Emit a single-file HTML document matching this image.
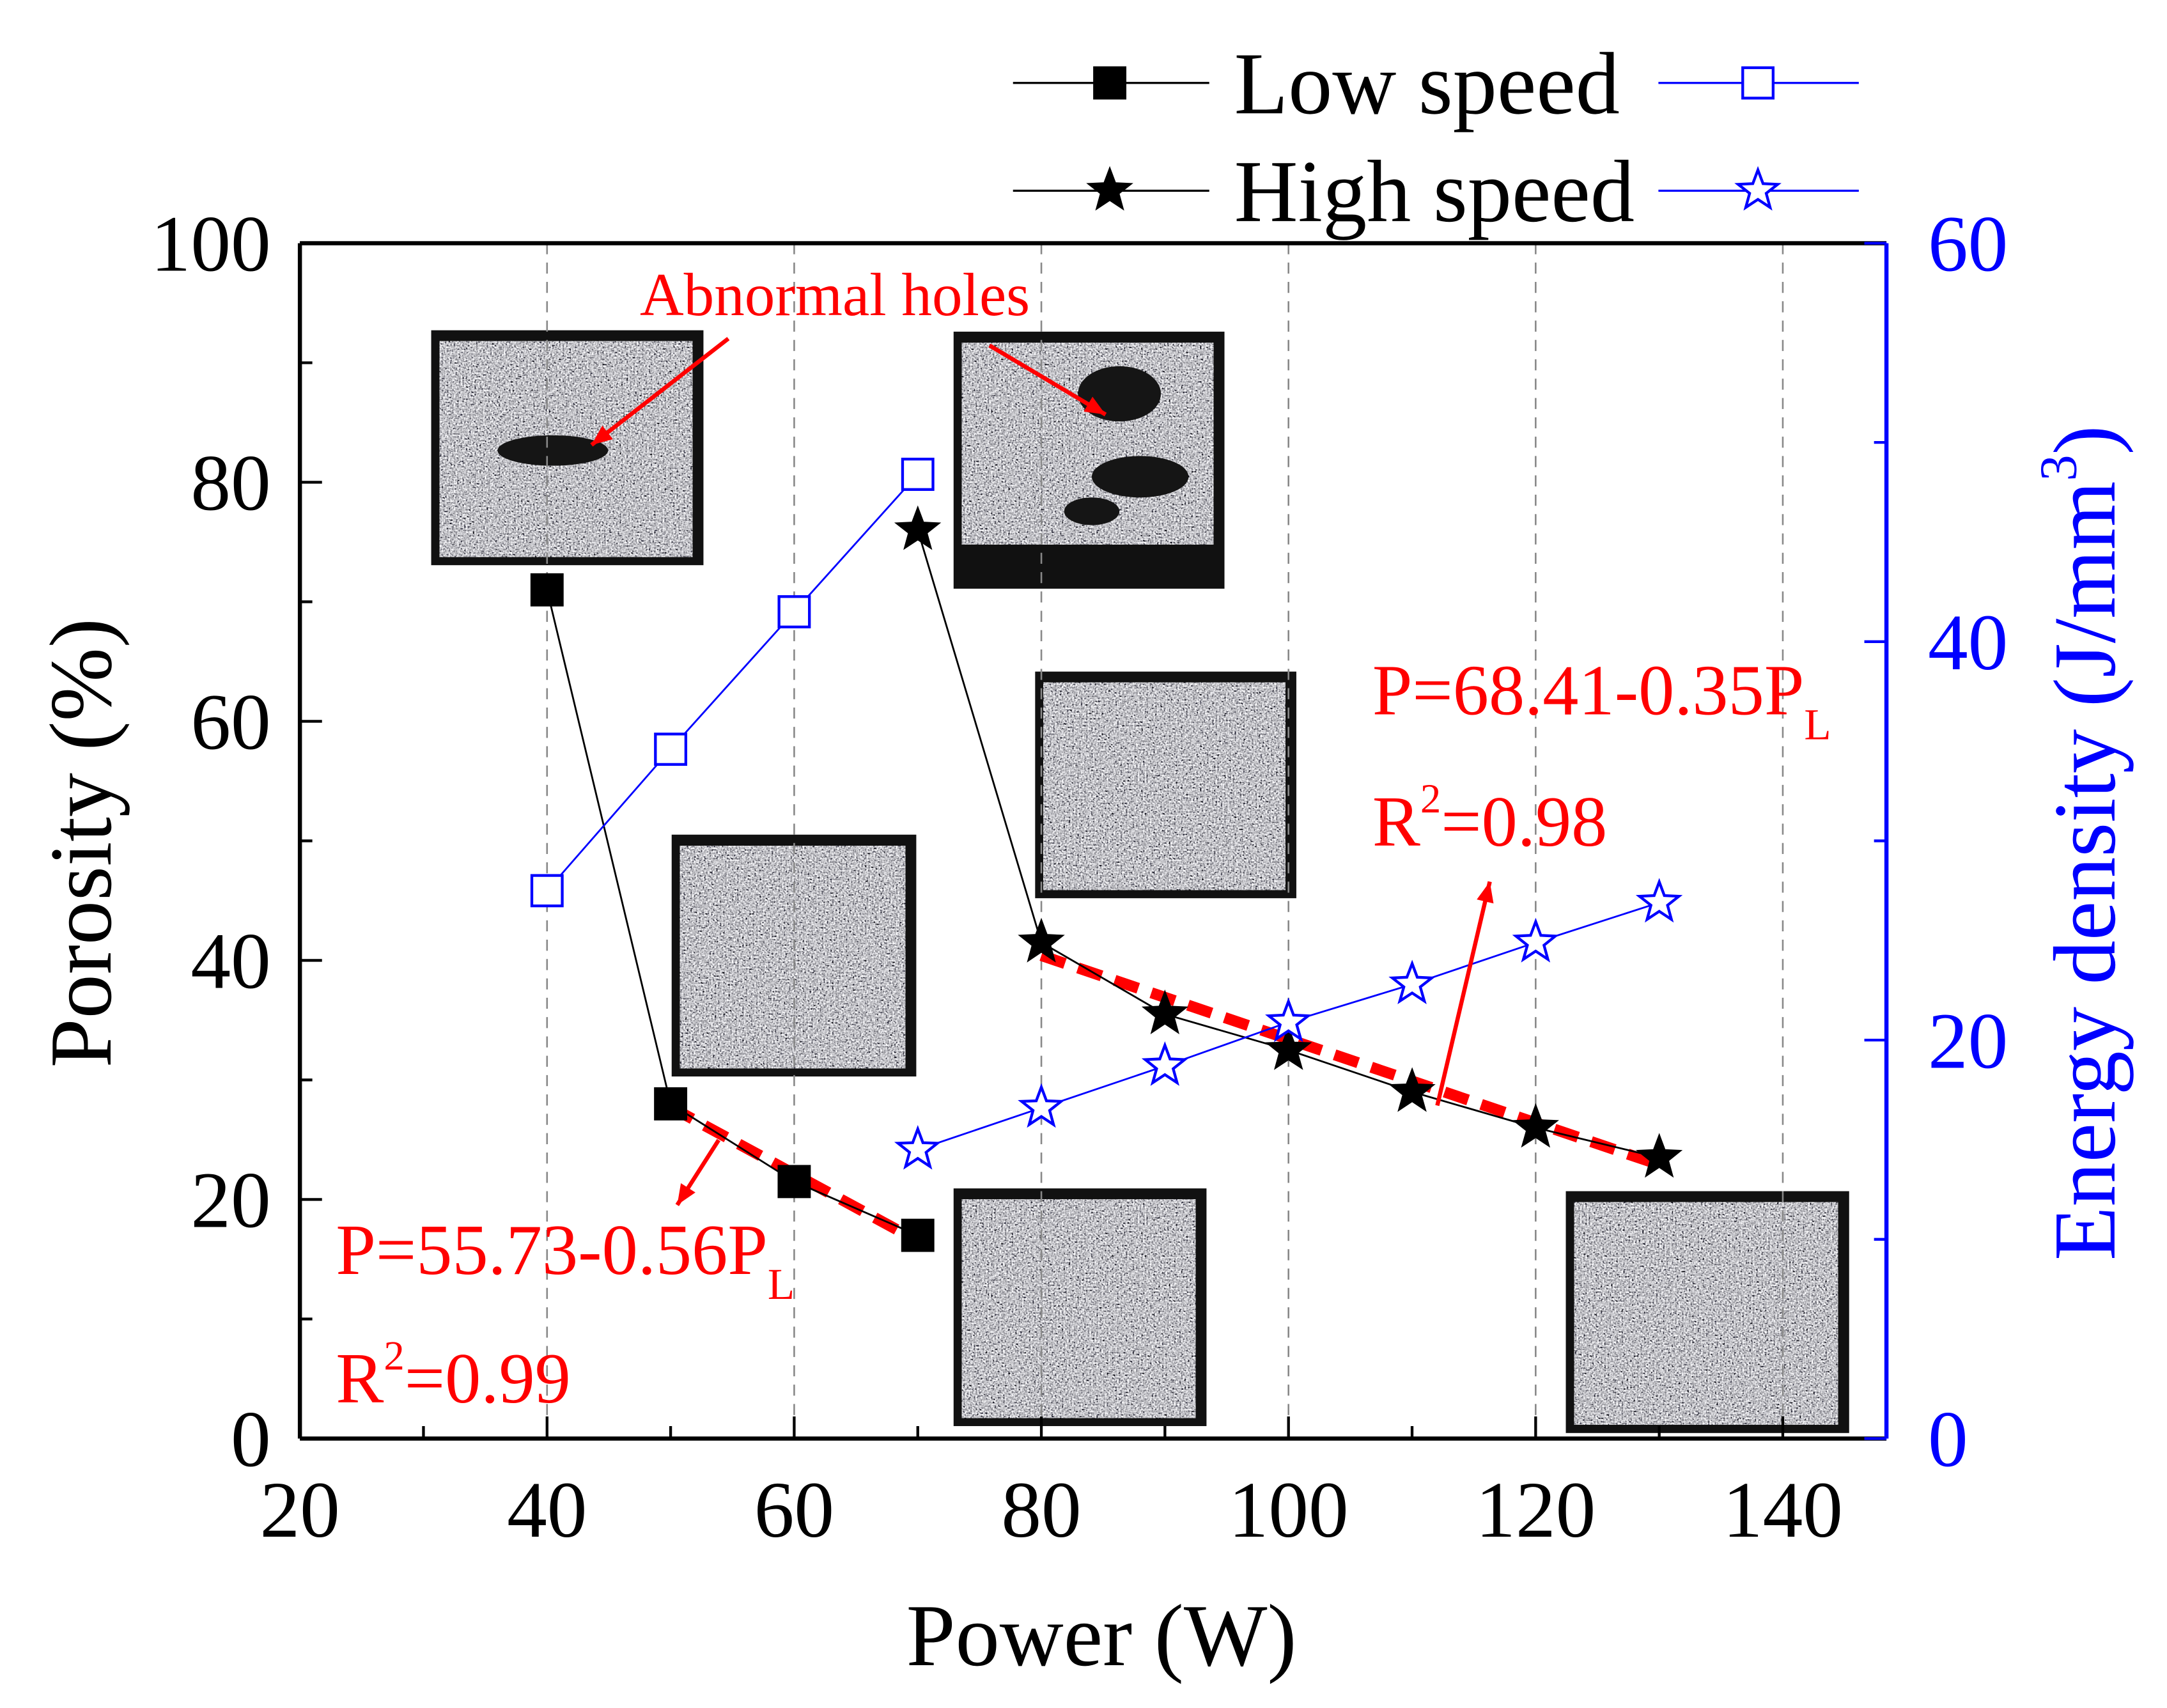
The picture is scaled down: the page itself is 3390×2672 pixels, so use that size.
<!DOCTYPE html>
<html><head><meta charset="utf-8"><style>
html,body{margin:0;padding:0;background:#fff;}
svg{display:block;font-family:"Liberation Serif",serif;}
</style></head><body>
<svg id="chart" width="3390" height="2672" viewBox="0 0 1568 1236" preserveAspectRatio="none" xmlns="http://www.w3.org/2000/svg">
<defs>
<filter id="grain" x="0" y="0" width="100%" height="100%">
<feTurbulence type="fractalNoise" baseFrequency="0.8" numOctaves="2" seed="3" result="n"/>
<feColorMatrix in="n" type="matrix" values="0.33 0.33 0.33 0 0  0.33 0.33 0.33 0 0  0.33 0.33 0.33 0 0  0 0 0 0 1" result="g"/>
<feComponentTransfer in="g"><feFuncR type="linear" slope="3.2" intercept="-1.05"/><feFuncG type="linear" slope="3.2" intercept="-1.05"/><feFuncB type="linear" slope="3.2" intercept="-1.02"/></feComponentTransfer>
</filter>
</defs>
<g id="photos"></g>
<g id="grid"></g>
<g id="axes"></g>
<g id="series"></g>
<g id="annot"></g>
</svg>
<script>
const NS="http://www.w3.org/2000/svg";
const powerLow=[40,50,60,70];
const porosityLow=[71,28,21.5,17];
const energyLow=[27.5,34.6,41.5,48.4];
const powerHigh=[70,80,90,100,110,120,130];
const porosityHigh=[76,41.5,35.5,32.5,29,26,23.5];
const energyHigh=[14.5,16.6,18.7,20.9,22.8,24.9,26.9];
const xTicks=[20,40,60,80,100,120,140];
const yTicks=[0,20,40,60,80,100];
const y2Ticks=[0,20,40,60];
const fitLow=[55.73,-0.56,50,70];
const fitHigh=[68.41,-0.35,80,130];

const L=217,R=1365,T=176,B=1041;
const X=v=>L+(v-20)*(1290-L)/120;
const Y=p=>B-p*(B-T)/100;
const Y2=e=>B-e*(B-T)/60;
function mk(tag,attrs,parent,txt){const e=document.createElementNS(NS,tag);for(const k in attrs)e.setAttribute(k,attrs[k]);if(txt!==undefined)e.textContent=txt;document.getElementById(parent).appendChild(e);return e;}

// photos
const photos=[[312,239,197,170,0],[690,240,196,186,1],[749,486,189,164,0],[486,604,177,175,0],[690,860,183,172,0],[1133,862,205,175,0]];
photos.forEach((p,i)=>{
 const bg=mk('rect',{x:p[0],y:p[1],width:p[2],height:p[3],fill:'#111'},'photos');
 
 
 const h=p[4]?p[3]-40:p[3]-14;
 const c=mk('rect',{x:p[0]+6,y:p[1]+8,width:p[2]-14,height:h,fill:'#888',filter:'url(#grain)'},'photos');
 
 
});
// holes
[[360,315,80,22],[780,265,60,40],[790,330,70,30],[770,360,40,20]].forEach((h,i)=>{
 const e=mk('ellipse',{cx:h[0]+h[2]/2,cy:h[1]+h[3]/2,rx:h[2]/2,ry:h[3]/2,fill:'#151515'},'photos');
 
 
});

// grid
xTicks.slice(1).forEach(v=>{
 const g=mk('line',{x1:X(v),x2:X(v),y1:T,y2:B,stroke:'#888','stroke-width':1.2,'stroke-dasharray':'8,6'},'grid');
 
 
});

// axes frame
let a;
a=mk('line',{x1:L,x2:R,y1:B,y2:B,stroke:'#000','stroke-width':3},'axes');
a=mk('line',{x1:L,x2:R,y1:T,y2:T,stroke:'#000','stroke-width':3},'axes');
a=mk('line',{x1:L,x2:L,y1:T,y2:B,stroke:'#000','stroke-width':3},'axes');
a=mk('line',{x1:R,x2:R,y1:T,y2:B,stroke:'#00f','stroke-width':3},'axes');
for(let v=20;v<=148;v+=10){const maj=v%20===0;const t=mk('line',{x1:X(v),x2:X(v),y1:B,y2:B-(maj?16:9),stroke:'#000','stroke-width':2},'axes');}
for(let v=0;v<=100;v+=10){const maj=v%20===0;const t=mk('line',{x1:L,x2:L+(maj?16:9),y1:Y(v),y2:Y(v),stroke:'#000','stroke-width':2},'axes');}
for(let v=0;v<=60;v+=10){const maj=v%20===0;const t=mk('line',{x1:R,x2:R-(maj?16:9),y1:Y2(v),y2:Y2(v),stroke:'#00f','stroke-width':2},'axes');}
xTicks.forEach(v=>{const t=mk('text',{x:X(v),y:1112,'font-size':58,'text-anchor':'middle'},'axes',v);});
yTicks.forEach(v=>{const t=mk('text',{x:196,y:Y(v)+20,'font-size':58,'text-anchor':'end'},'axes',v);});
y2Ticks.forEach(v=>{const t=mk('text',{x:1395,y:Y2(v)+20,'font-size':58,fill:'#00f'},'axes',v);});
a=mk('text',{x:797,y:1205,'font-size':64,'text-anchor':'middle'},'axes','Power (W)');
a=mk('text',{x:0,y:0,'font-size':64,'text-anchor':'middle',transform:'translate(80,610) rotate(-90)'},'axes','Porosity (%)');
a=mk('text',{x:0,y:0,'font-size':64,'text-anchor':'middle',fill:'#00f',transform:'translate(1530,610) rotate(-90)'},'axes');
a.innerHTML='Energy density (J/mm<tspan dy="-28" font-size="38">3</tspan><tspan dy="28">)</tspan>';

// markers
function square(cx,cy,s,fill,stroke,name){const e=mk('rect',{x:cx-s/2,y:cy-s/2,width:s,height:s,fill:fill,stroke:stroke,'stroke-width':2},'series');}
function star(cx,cy,r,fill,stroke,name){let pts=[];for(let i=0;i<10;i++){const ang=-Math.PI/2+i*Math.PI/5;const rr=i%2?r*0.42:r;pts.push((cx+rr*Math.cos(ang)).toFixed(1)+','+(cy+rr*Math.sin(ang)).toFixed(1));}const e=mk('polygon',{points:pts.join(' '),fill:fill,stroke:stroke,'stroke-width':2},'series');}
function line(xs,ys,yf,color,name){const e=mk('polyline',{points:xs.map((v,i)=>X(v)+','+yf(ys[i])).join(' '),fill:'none',stroke:color,'stroke-width':1.3},'series');}
// fit lines
[fitLow,fitHigh].forEach((f,i)=>{const e=mk('line',{x1:X(f[2]),y1:Y(f[0]+f[1]*f[2]),x2:X(f[3]),y2:Y(f[0]+f[1]*f[3]),stroke:'#f00','stroke-width':8,'stroke-dasharray':'18,10'},'series');});
line(powerLow,porosityLow,Y,'#000','porosity-low-line');
line(powerHigh,porosityHigh,Y,'#000','porosity-high-line');
line(powerLow,energyLow,Y2,'#00f','energy-low-line');
line(powerHigh,energyHigh,Y2,'#00f','energy-high-line');
powerLow.forEach((v,i)=>square(X(v),Y(porosityLow[i]),22,'#000','#000','porosity-low-point'));
powerHigh.forEach((v,i)=>star(X(v),Y(porosityHigh[i]),15,'#000','#000','porosity-high-point'));
powerLow.forEach((v,i)=>square(X(v),Y2(energyLow[i]),22,'#fff','#00f','energy-low-point'));
powerHigh.forEach((v,i)=>star(X(v),Y2(energyHigh[i]),15,'#fff','#00f','energy-high-point'));

// legend
function legRow(y,kind,label){
 let e=mk('line',{x1:733,x2:875,y1:y,y2:y,stroke:'#000','stroke-width':1.5},'series');
 e=mk('line',{x1:1200,x2:1345,y1:y,y2:y,stroke:'#00f','stroke-width':1.5},'series');
 if(kind==='sq'){square(803,y,22,'#000','#000','legend-marker');square(1272,y,22,'#fff','#00f','legend-marker');}
 else{star(803,y,15,'#000','#000','legend-marker');star(1272,y,15,'#fff','#00f','legend-marker');}
 e=mk('text',{x:893,y:y+22,'font-size':64},'series',label);
}
legRow(60,'sq','Low speed');
legRow(138,'st','High speed');

// annotations
function arrow(x1,y1,x2,y2,name){const e=mk('line',{x1:x1,y1:y1,x2:x2,y2:y2,stroke:'#f00','stroke-width':3},'annot');
 const ang=Math.atan2(y2-y1,x2-x1),s=16;const p=[[x2,y2],[x2-s*Math.cos(ang-0.4),y2-s*Math.sin(ang-0.4)],[x2-s*Math.cos(ang+0.4),y2-s*Math.sin(ang+0.4)]];
 const h=mk('polygon',{points:p.map(q=>q.join(',')).join(' '),fill:'#f00'},'annot');}
arrow(527,245,428,322,'abnormal-arrow-1');
arrow(716,250,800,300,'abnormal-arrow-2');
arrow(1040,800,1078,638,'fit-high-arrow');
arrow(520,825,490,872,'fit-low-arrow');
a=mk('text',{x:463,y:228,'font-size':44,fill:'#f00'},'annot','Abnormal holes');
a=mk('text',{x:993,y:517,'font-size':52,fill:'#f00'},'annot');
a.innerHTML='P=68.41-0.35P<tspan dy="18" font-size="32">L</tspan>';
a=mk('text',{x:993,y:612,'font-size':52,fill:'#f00'},'annot');
a.innerHTML='R<tspan dy="-24" font-size="30">2</tspan><tspan dy="24">=0.98</tspan>';
a=mk('text',{x:243,y:922,'font-size':52,fill:'#f00'},'annot');
a.innerHTML='P=55.73-0.56P<tspan dy="18" font-size="32">L</tspan>';
a=mk('text',{x:243,y:1015,'font-size':52,fill:'#f00'},'annot');
a.innerHTML='R<tspan dy="-24" font-size="30">2</tspan><tspan dy="24">=0.99</tspan>';
</script>
</body></html>
